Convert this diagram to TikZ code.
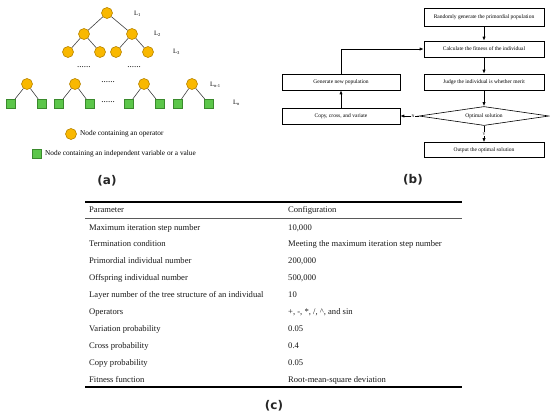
\documentclass[tikz,border=0pt]{standalone}
\usepackage{fontspec}
\setmainfont{Liberation Serif}
\newfontfamily\labfont{DejaVu Sans}
\usetikzlibrary{shapes.geometric,arrows.meta}
\definecolor{opfill}{HTML}{F9B800}
\definecolor{opdraw}{HTML}{B88400}
\definecolor{valfill}{HTML}{5CC64A}
\definecolor{valdraw}{HTML}{3A8A2C}
\tikzset{
  opn/.style={circle, draw=opdraw, fill=opfill, line width=0.6pt, minimum size=11pt, inner sep=0pt},
  valn/.style={rectangle, draw=valdraw, fill=valfill, line width=0.6pt, minimum size=9.5pt, inner sep=0pt},
  tedge/.style={draw=black!75, line width=0.6pt},
  lvl/.style={anchor=west, font=\fontsize{6.5}{7}\selectfont, inner sep=0pt},
  dots/.style={font=\fontsize{9}{9}\selectfont, inner sep=0pt},
  legtxt/.style={anchor=west, font=\fontsize{7.3}{8}\selectfont, inner sep=0pt},
  sublab/.style={font=\labfont\bfseries\fontsize{12}{13}\selectfont, inner sep=0pt, text=black!85},
  fbox/.style={draw, line width=0.6pt, minimum width=120pt, minimum height=16pt, inner sep=0pt, font=\fontsize{5.5}{6}\selectfont},
  fdia/.style={diamond, draw, line width=0.6pt, aspect=7, minimum width=130pt, minimum height=19pt, inner sep=0pt, font=\fontsize{5.5}{6}\selectfont},
  farr/.style={draw, line width=0.7pt, -{Latex[length=4pt,width=3.2pt]}},
  yn/.style={fill=white, inner sep=0.3pt, font=\fontsize{4}{4}\selectfont},
  tcell/.style={anchor=base west, inner sep=0pt, font=\fontsize{8.6}{9}\selectfont, text=black!90},
}
\begin{document}
\begin{tikzpicture}[x=1pt,y=-1pt]
\useasboundingbox (0,0) rectangle (550,418);
% ---------------- (a) tree ----------------
\node[opn] (r) at (107,13) {};
\node[opn] (a1) at (84,34) {};
\node[opn] (a2) at (132,34) {};
\node[opn] (b1) at (68,52) {};
\node[opn] (b2) at (100,52) {};
\node[opn] (b3) at (116,52) {};
\node[opn] (b4) at (148,52) {};
\node[opn] (c1) at (27,84) {};
\node[opn] (c2) at (75,84) {};
\node[opn] (c3) at (144,84) {};
\node[opn] (c4) at (192,84) {};
\node[valn] (s1) at (11,104) {};
\node[valn] (s2) at (42,104) {};
\node[valn] (s3) at (59,104) {};
\node[valn] (s4) at (90,104) {};
\node[valn] (s5) at (129,104) {};
\node[valn] (s6) at (160,104) {};
\node[valn] (s7) at (178,104) {};
\node[valn] (s8) at (209,104) {};
\draw[tedge] (r) -- (a1);
\draw[tedge] (r) -- (a2);
\draw[tedge] (a1) -- (b1);
\draw[tedge] (a1) -- (b2);
\draw[tedge] (a2) -- (b3);
\draw[tedge] (a2) -- (b4);
\draw[tedge] (c1) -- (s1);
\draw[tedge] (c1) -- (s2);
\draw[tedge] (c2) -- (s3);
\draw[tedge] (c2) -- (s4);
\draw[tedge] (c3) -- (s5);
\draw[tedge] (c3) -- (s6);
\draw[tedge] (c4) -- (s7);
\draw[tedge] (c4) -- (s8);
\node[dots] (d1) at (84,67) {......};
\node[dots] (d2) at (134,67) {......};
\node[dots] (d3) at (108,82) {......};
\node[dots] (d4) at (108,102) {......};
\node[lvl] (l1) at (134,14) {L\textsubscript{1}};
\node[lvl] (l2) at (154,34) {L\textsubscript{2}};
\node[lvl] (l3) at (173,52) {L\textsubscript{3}};
\node[lvl] (ln1) at (210,85) {L\textsubscript{\textit{n}-1}};
\node[lvl] (ln) at (233,103) {L\textsubscript{\textit{n}}};
% legend
\node[opn] (lgo) at (71,134) {};
\node[legtxt] (lgot) at (80,134) {Node containing an operator};
\node[valn] (lgv) at (37,154) {};
\node[legtxt] (lgvt) at (45,154) {Node containing an independent variable or a value};
\node[sublab] (capa) at (107,181) {(a)};
% ---------------- (b) flowchart ----------------
\node[fbox, minimum height=18pt] (f1) at (484,17) {Randomly generate the primordial population};
\node[fbox] (f2) at (484,49) {Calculate the fitness of the individual};
\node[fbox] (f3) at (484,82) {Judge the individual is whether merit};
\node[fdia] (fd) at (484,116) {Optimal solution};
\node[fbox, minimum height=15pt] (f4) at (484,150) {Output the optimal solution};
\node[fbox, minimum width=118pt] (g1) at (341,82) {Generate new population};
\node[fbox, minimum width=118pt] (g2) at (341,116) {Copy, cross, and variate};
\draw[farr] (f1) -- (f2);
\draw[farr] (f2) -- (f3);
\draw[farr] (f3) -- (fd);
\draw[farr] (fd) -- node[yn] (ylab) {Y} (f4);
\draw[farr] (fd) -- node[yn, pos=0.3] (nlab) {N} (g2);
\draw[farr] (g2) -- (g1);
\draw[farr] (g1.north) |- (f2.west);
\node[sublab] (capb) at (413,180) {(b)};
% ---------------- (c) table ----------------
\coordinate (tl) at (85,202);
\coordinate (tr) at (462,202);
\coordinate (hl) at (85,218);
\coordinate (hr) at (462,218);
\coordinate (bl) at (85,387);
\coordinate (br) at (462,387);
\draw[line width=1.3pt] (tl) -- (tr);
\draw[line width=0.7pt, black!65] (hl) -- (hr);
\draw[line width=1.3pt] (bl) -- (br);
\node[tcell] (p0) at (89,212) {Parameter};
\node[tcell] (v0) at (288,212) {Configuration};
\foreach \i/\p/\v in {
  1/{Maximum iteration step number}/{10,000},
  2/{Termination condition}/{Meeting the maximum iteration step number},
  3/{Primordial individual number}/{200,000},
  4/{Offspring individual number}/{500,000},
  5/{Layer number of the tree structure of an individual}/{10},
  6/{Operators}/{+, -, *, /, \textasciicircum, and sin},
  7/{Variation probability}/{0.05},
  8/{Cross probability}/{0.4},
  9/{Copy probability}/{0.05},
  10/{Fitness function}/{Root-mean-square deviation}}{
  \node[tcell] (p\i) at (89,{230+16.9*(\i-1)}) {\p};
  \node[tcell] (v\i) at (288,{230+16.9*(\i-1)}) {\v};
}
\node[sublab] (capc) at (274,406) {(c)};
\end{tikzpicture}
\end{document}
